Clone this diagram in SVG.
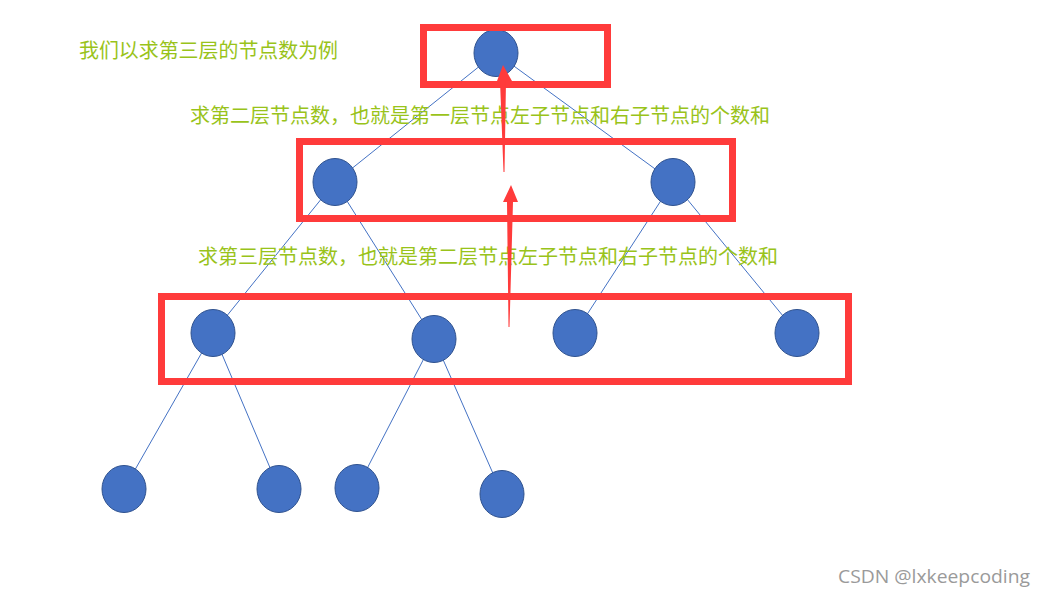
<svg xmlns="http://www.w3.org/2000/svg" width="1044" height="597" viewBox="0 0 1044 597">
<style>
.n{fill:#4472C4;stroke:#2F528F;stroke-width:1}
.e{stroke:#4472C4;stroke-width:1;fill:none}
.b{fill:none;stroke:#FF3B3B;stroke-width:7}
.t{font-family:"Noto Sans CJK SC","Liberation Sans",sans-serif;font-size:20px;fill:#99C31A}
.a{fill:#FF3B3B}
</style>
<rect width="1044" height="597" fill="#fff"/>
<g id="connectors">
<line class="e" x1="496" y1="53" x2="335" y2="182"/>
<line class="e" x1="496" y1="53" x2="673" y2="182"/>
<line class="e" x1="335" y1="182" x2="213" y2="333"/>
<line class="e" x1="335" y1="182" x2="434" y2="339"/>
<line class="e" x1="673" y1="182" x2="575" y2="333"/>
<line class="e" x1="673" y1="182" x2="797" y2="333"/>
<line class="e" x1="213" y1="333" x2="124" y2="489"/>
<line class="e" x1="213" y1="333" x2="279" y2="489"/>
<line class="e" x1="434" y1="339" x2="357" y2="488"/>
<line class="e" x1="434" y1="339" x2="502" y2="494"/>
</g>
<g id="n1"><ellipse class="n" cx="496" cy="53" rx="22" ry="23.5"/></g>
<g id="n2"><ellipse class="n" cx="335" cy="182" rx="22" ry="23.5"/></g>
<g id="n3"><ellipse class="n" cx="673" cy="182" rx="22" ry="23.5"/></g>
<g id="n4"><ellipse class="n" cx="213" cy="333" rx="22" ry="23.5"/></g>
<g id="n5"><ellipse class="n" cx="434" cy="339" rx="22" ry="23.5"/></g>
<g id="n6"><ellipse class="n" cx="575" cy="333" rx="22" ry="23.5"/></g>
<g id="n7"><ellipse class="n" cx="797" cy="333" rx="22" ry="23.5"/></g>
<g id="n8"><ellipse class="n" cx="124" cy="489" rx="22" ry="23.5"/></g>
<g id="n9"><ellipse class="n" cx="279" cy="489" rx="22" ry="23.5"/></g>
<g id="n10"><ellipse class="n" cx="357" cy="488" rx="22" ry="23.5"/></g>
<g id="n11"><ellipse class="n" cx="502" cy="494" rx="22" ry="23.5"/></g>
<g id="labels">
<text class="t" x="79" y="58" textLength="259" lengthAdjust="spacingAndGlyphs">我们以求第三层的节点数为例</text>
<text class="t" x="190" y="123" textLength="580" lengthAdjust="spacingAndGlyphs">求第二层节点数，也就是第一层节点左子节点和右子节点的个数和</text>
<text class="t" x="198" y="264" textLength="580" lengthAdjust="spacingAndGlyphs">求第三层节点数，也就是第二层节点左子节点和右子节点的个数和</text>
</g>
<g id="boxes">
<rect class="b" x="423.5" y="27.5" width="184" height="57"/>
<rect class="b" x="299.5" y="141.5" width="433" height="77"/>
<rect class="b" x="161.5" y="296.5" width="687" height="85"/>
</g>
<g id="arrows">
<polygon class="a" points="503,65 512,81 506,81 504.5,172 503.5,172 500,81 497,81"/>
<polygon class="a" points="511,185 518,202 513,202 509.5,327 508.5,327 507,202 503,202"/>
</g>
<text x="838" y="583" font-family="'Open Sans','Noto Sans',sans-serif" font-size="19" fill="#9a9a9a" textLength="192" lengthAdjust="spacingAndGlyphs">CSDN @lxkeepcoding</text>
</svg>
